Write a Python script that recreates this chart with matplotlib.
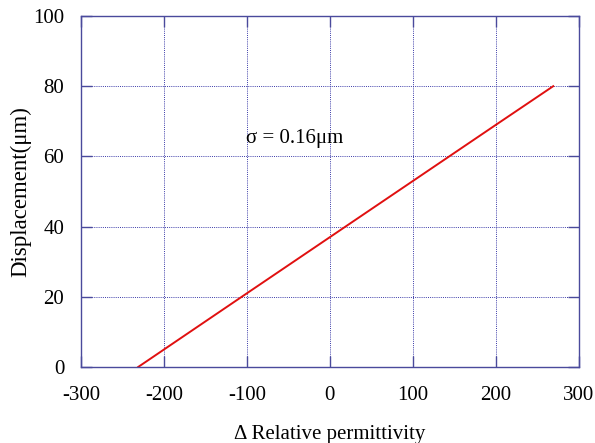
import numpy as np
import matplotlib.pyplot as plt

plt.rcParams['font.family'] = ['Liberation Serif', 'DejaVu Serif']
plt.rcParams['axes.unicode_minus'] = False

# values
delta_perm = [-231, -100, 0, 100, 200, 269]
displacement = [0, 21, 37, 53, 69, 80]
x_ticks = [-300, -200, -100, 0, 100, 200, 300]
y_ticks = [0, 20, 40, 60, 80, 100]

frame = '#4a4a9c'
grid = '#3a3aa8'

fig = plt.figure(figsize=(5.95, 4.43), dpi=100)
ax = fig.add_axes([0.136, 0.1716, 0.837, 0.7923])

ax.plot(delta_perm, displacement, color='#e01010', lw=1.4)

ax.set_xlim(-300, 300)
ax.set_ylim(0, 100)
ax.set_xticks(x_ticks)
ax.set_yticks(y_ticks)
ax.grid(True, color=grid, linestyle=(0, (1, 1.2)), linewidth=0.7)

for s in ax.spines.values():
    s.set_color(frame)
    s.set_linewidth(1.0)
ax.tick_params(direction='in', length=8, width=1.0, color=frame,
               top=True, right=True, labelsize=15)
ax.tick_params(axis='x', pad=14)
ax.tick_params(axis='y', pad=12)

ax.set_xlabel('\u0394 Relative permittivity', fontsize=15, labelpad=14)
ax.set_ylabel('Displacement(\u03bcm)', fontsize=16.5, labelpad=1)

ax.text(-101, 65, '\u03c3 = 0.16\u03bcm', fontsize=15, va='center', ha='left')

fig.savefig('out.png', dpi=100)
